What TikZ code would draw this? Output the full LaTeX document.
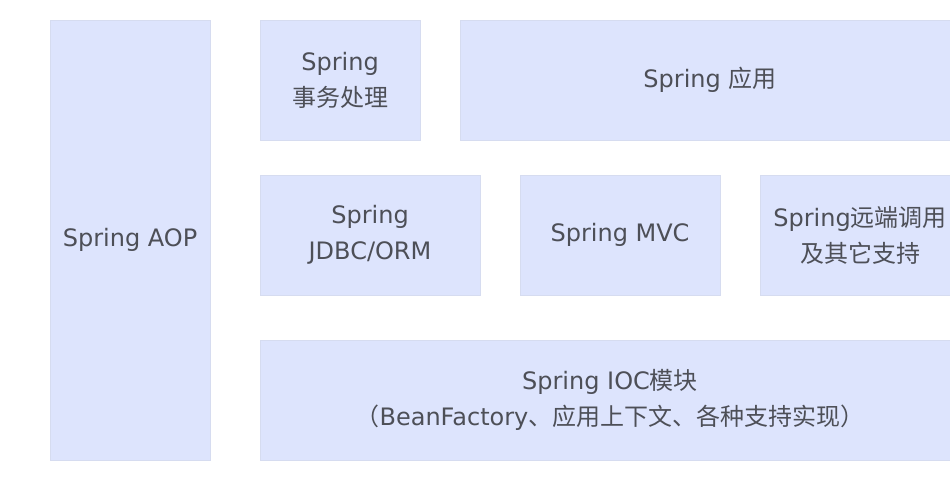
\documentclass[tikz,border=0pt]{standalone}
\usepackage{fontspec}
\setmainfont{DejaVu Sans}
\newfontfamily\cjk{Noto Sans CJK SC}
\definecolor{layerfill}{HTML}{DDE4FD}
\definecolor{layerline}{HTML}{D6DCF0}
\definecolor{layertext}{HTML}{4D4F57}

\begin{document}
\begin{tikzpicture}[x=1pt, y=-1pt,
        layer/.style={rectangle, draw=layerline, fill=layerfill, text=layertext, align=center,
            inner sep=0pt, font=\fontsize{24}{36}\selectfont}]
        \useasboundingbox (0,0) rectangle (950,480);
        \clip (0,0) rectangle (950,480);
        % left column
        \node[layer, minimum width=160, minimum height=440] (aop) at (130,240) {Spring AOP};
        % top row
        \node[layer, minimum width=160, minimum height=120] (tx) at (340,80) {Spring\\{\cjk 事务处理}};
        \node[layer, minimum width=500, minimum height=120] (app) at (710,80) {Spring {\cjk 应用}};
        % middle row
        \node[layer, minimum width=220, minimum height=120] (jdbc) at (370,235) {Spring\\JDBC/ORM};
        \node[layer, minimum width=200, minimum height=120] (mvc) at (620,235) {Spring MVC};
        \node[layer, minimum width=200, minimum height=120] (remote) at (860,235) {Spring{\cjk 远端调用}\\{\cjk 及其它支持}};
        % bottom row
        \node[layer, minimum width=700, minimum height=120] (ioc) at (610,400)
            {Spring IOC{\cjk 模块}\\{\cjk （}BeanFactory{\cjk 、应用上下文、各种支持实现）}};
    \end{tikzpicture}
\end{document}
